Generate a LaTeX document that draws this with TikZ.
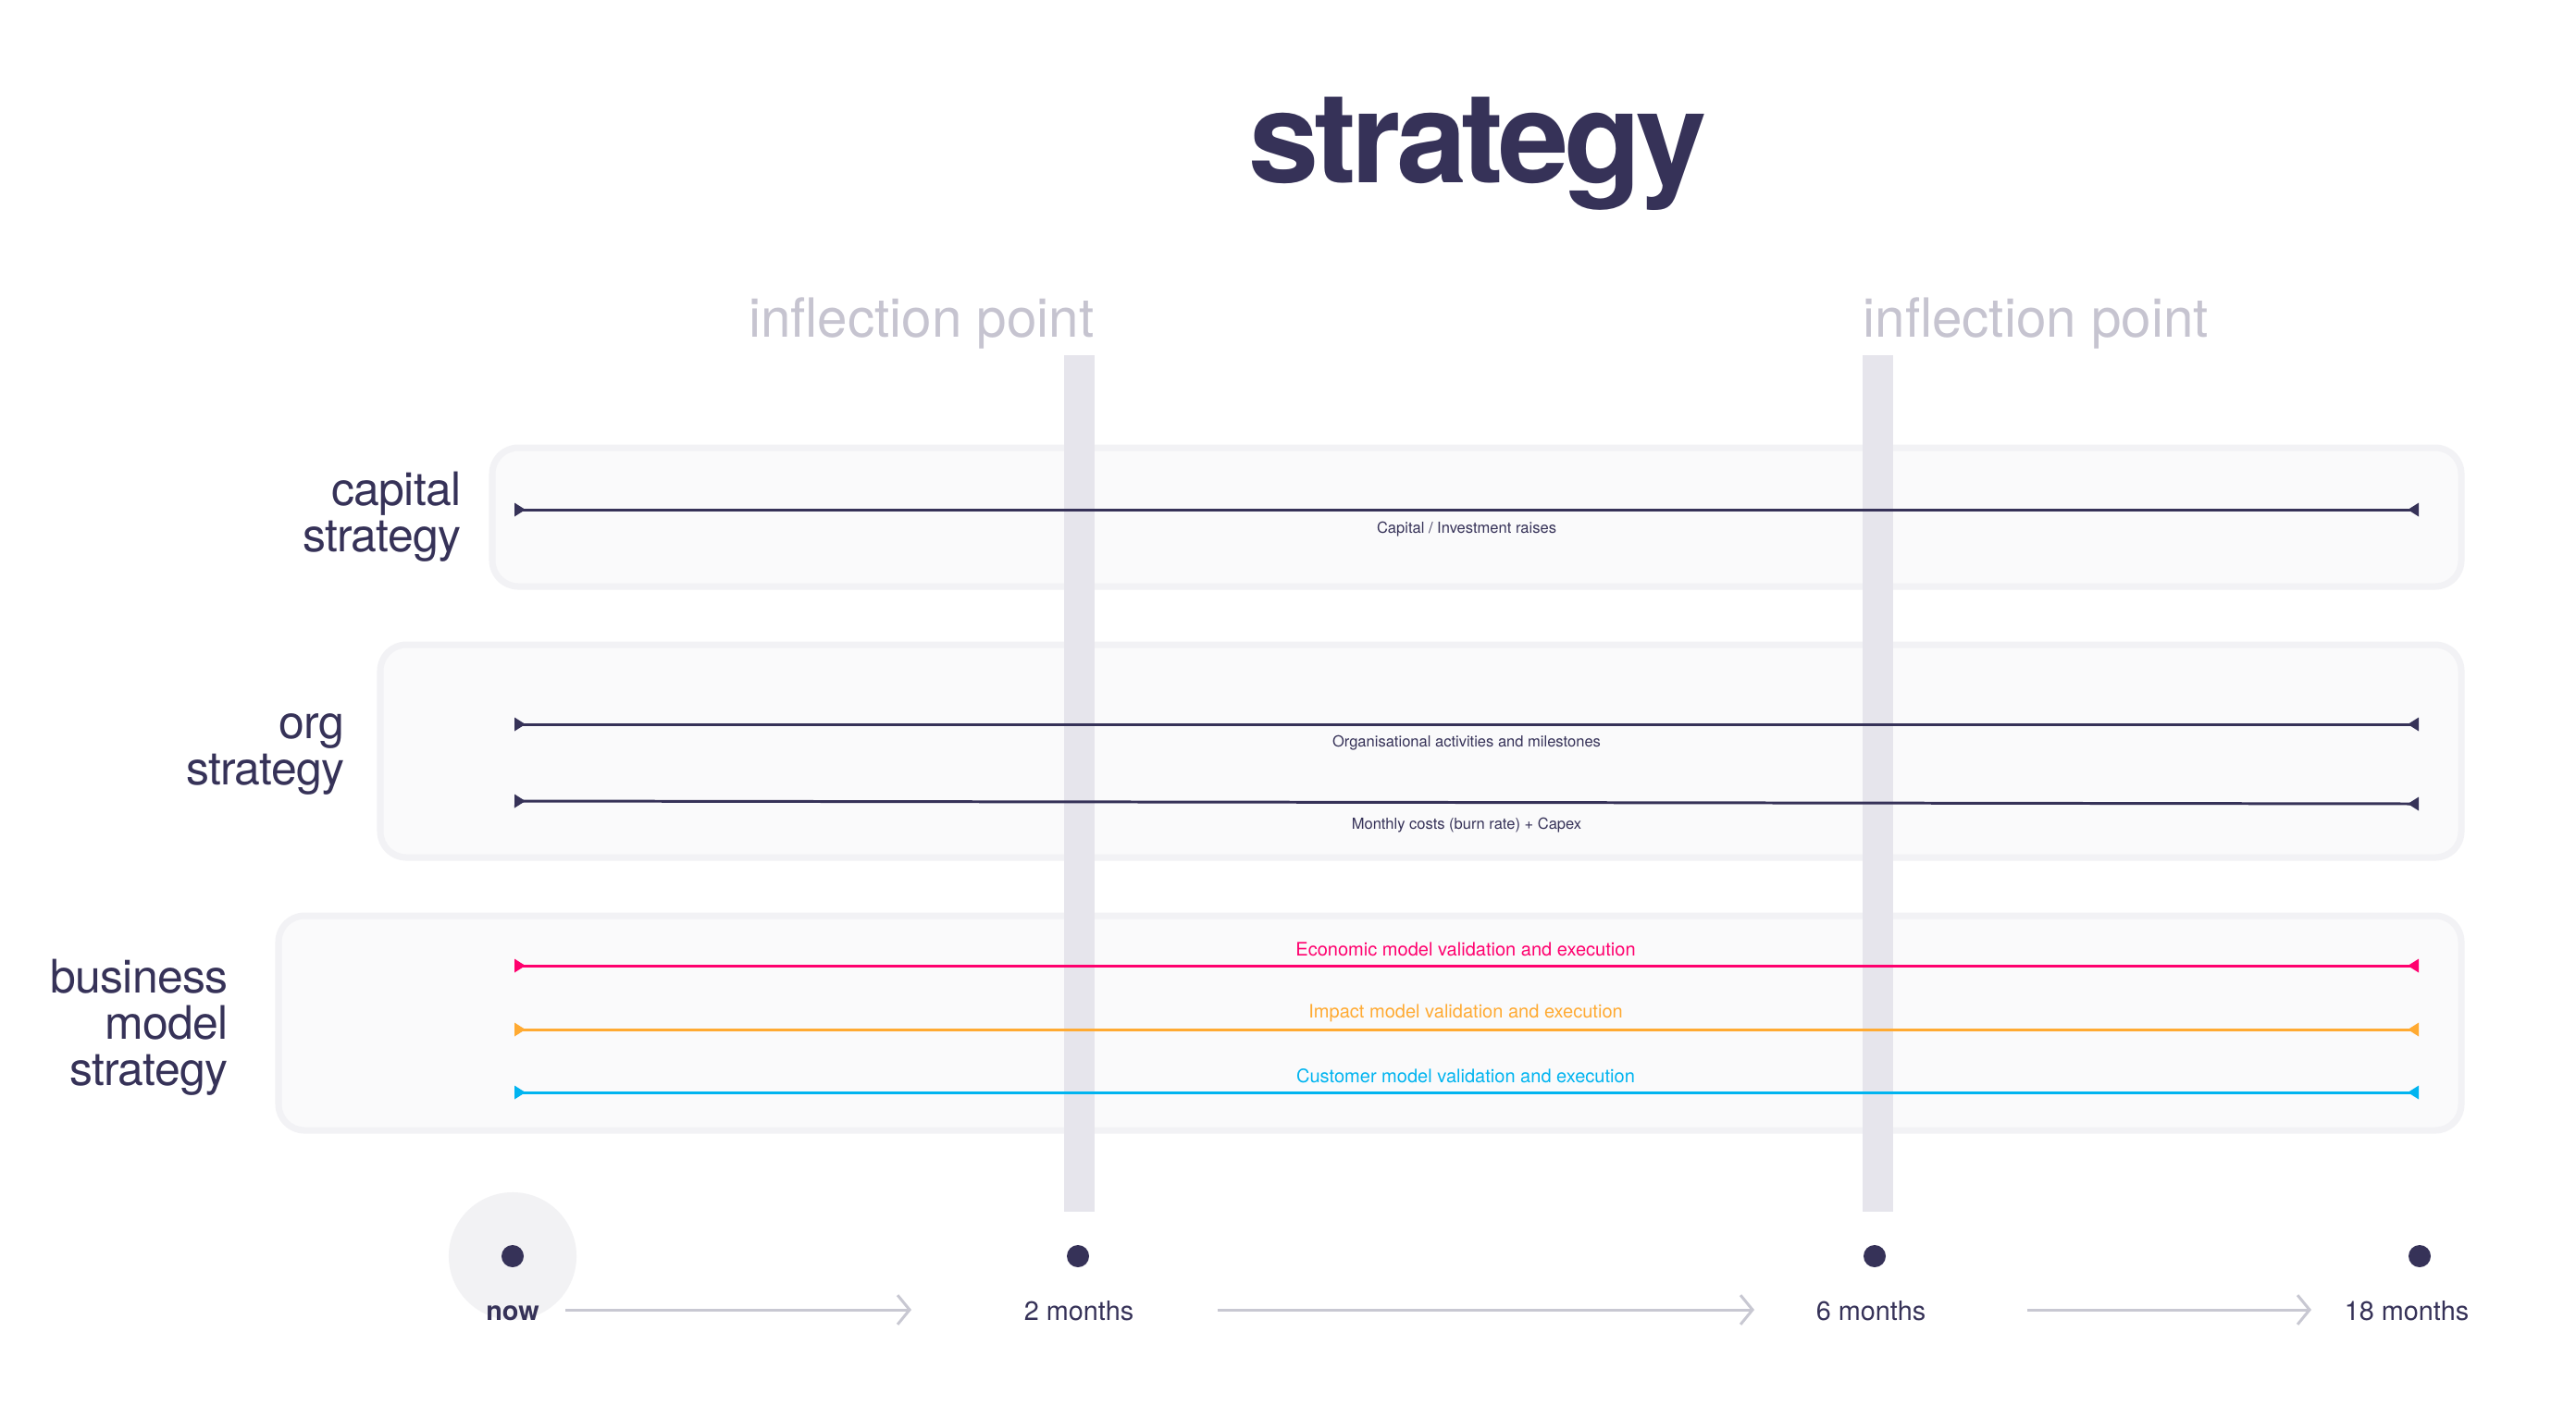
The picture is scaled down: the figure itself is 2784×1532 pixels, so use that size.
\documentclass[tikz,border=0pt]{standalone}
\usepackage{fontspec}
\setmainfont{TeX Gyre Heros}
\newfontfamily\headfont[LetterSpace=-4]{TeX Gyre Heros}
\newfontfamily\sidefont[LetterSpace=-1.5]{TeX Gyre Heros}
\usetikzlibrary{arrows.meta}

\definecolor{ink}{RGB}{54,50,88}
\definecolor{mist}{RGB}{198,196,208}
\definecolor{barfill}{RGB}{230,229,236}
\definecolor{panelfill}{RGB}{250,250,251}
\definecolor{paneledge}{RGB}{242,242,245}
\definecolor{econ}{RGB}{255,0,110}
\definecolor{impact}{RGB}{255,170,50}
\definecolor{cust}{RGB}{0,180,240}
\definecolor{halo}{RGB}{242,242,244}
\definecolor{flow}{RGB}{200,200,210}

\tikzset{
  panel/.style={fill=panelfill, draw=paneledge, line width=2pt, rounded corners=8pt},
  band/.style={fill=barfill},
  track/.style={draw=#1, line width=0.85pt,
    {Triangle[reversed,length=3.4pt,width=4pt]}-{Triangle[reversed,length=3.4pt,width=4pt]}},
  sidelab/.style={font=\sidefont\fontsize{14.2}{14.2}\selectfont, text=ink, align=right, anchor=east, inner sep=0pt},
  darklab/.style={font=\fontsize{4.7}{5}\selectfont, text=ink, inner sep=0pt},
  colorlab/.style={font=\fontsize{5.7}{6}\selectfont, text=#1, inner sep=0pt},
  infl/.style={font=\fontsize{16.6}{17}\selectfont, text=mist, inner sep=0pt},
  dot/.style={circle, fill=ink, minimum size=0.24cm, inner sep=0pt},
  tlab/.style={font=\fontsize{8.2}{9}\selectfont, text=ink, inner sep=0pt, anchor=base},
  flowarrow/.style={draw=flow, line width=0.85pt, -{Straight Barb[length=3.7pt,width=9pt]}}
}

\begin{document}
\begin{tikzpicture}[x=0.01cm,y=-0.01cm]
  % canvas
  \useasboundingbox (0,0) rectangle (2784,1532);
  \fill[white] (0,0) rectangle (2784,1532);

  % title
  \node[inner sep=0pt, anchor=base, text=ink,
        font=\headfont\bfseries\fontsize{39}{39}\selectfont] (title) at (1597,197) {strategy};

  % inflection point headings
  \node[infl, anchor=base east] (infA) at (1183,364) {inflection point};
  \node[infl, anchor=base west] (infB) at (2013,364) {inflection point};

  % strategy panels
  \path[panel] (532,484) rectangle (2660,634);
  \path[panel] (411,697) rectangle (2660,927);
  \path[panel] (301,990) rectangle (2660,1222);

  % inflection bands
  \fill[band] (1150,384) rectangle (1183,1310);
  \fill[band] (2013,384) rectangle (2046,1310);

  % row labels
  \node[sidelab] (capLabel) at (499,559) {capital\\strategy};
  \node[sidelab] (orgLabel) at (373,815) {org\\strategy};
  \node[sidelab] (bmLabel) at (247,1111) {business\\model\\strategy};

  % capital strategy
  \coordinate (capL) at (556,551);
  \coordinate (capR) at (2614,551);
  \draw[track=ink] (capL) -- (capR);
  \node[darklab] (capText) at (1585,572) {Capital / Investment raises};

  % org strategy
  \coordinate (orgAL) at (556,783);
  \coordinate (orgAR) at (2614,783);
  \draw[track=ink] (orgAL) -- (orgAR);
  \node[darklab] (orgAText) at (1585,803) {Organisational activities and milestones};
  \coordinate (orgBL) at (556,866);
  \coordinate (orgBR) at (2614,869);
  \draw[track=ink] (orgBL) -- (orgBR);
  \node[darklab] (orgBText) at (1585,892) {Monthly costs (burn rate) + Capex};

  % business model strategy
  \coordinate (ecoL) at (556,1044);
  \coordinate (ecoR) at (2614,1044);
  \draw[track=econ] (ecoL) -- (ecoR);
  \node[colorlab=econ] (ecoText) at (1584,1026) {Economic model validation and execution};
  \coordinate (impL) at (556,1113);
  \coordinate (impR) at (2614,1113);
  \draw[track=impact] (impL) -- (impR);
  \node[colorlab=impact] (impText) at (1584,1095) {Impact model validation and execution};
  \coordinate (cusL) at (556,1181);
  \coordinate (cusR) at (2614,1181);
  \draw[track=cust] (cusL) -- (cusR);
  \node[colorlab=cust] (cusText) at (1584,1163) {Customer model validation and execution};

  % timeline
  \fill[halo] (554,1358) circle (0.69cm);
  \node[dot] (t0) at (554,1358) {};
  \node[dot] (t1) at (1165,1358) {};
  \node[dot] (t2) at (2026,1358) {};
  \node[dot] (t3) at (2615,1358) {};
  \node[tlab] (l0) at (554,1427) {\bfseries now};
  \node[tlab] (l1) at (1166,1427) {2 months};
  \node[tlab] (l2) at (2022,1427) {6 months};
  \node[tlab] (l3) at (2601,1427) {18 months};

  \coordinate (a0s) at (611,1416);
  \coordinate (a0e) at (985,1416);
  \coordinate (a1s) at (1316,1416);
  \coordinate (a1e) at (1896,1416);
  \coordinate (a2s) at (2191,1416);
  \coordinate (a2e) at (2498,1416);
  \draw[flowarrow] (a0s) -- (a0e);
  \draw[flowarrow] (a1s) -- (a1e);
  \draw[flowarrow] (a2s) -- (a2e);
\end{tikzpicture}
\end{document}
